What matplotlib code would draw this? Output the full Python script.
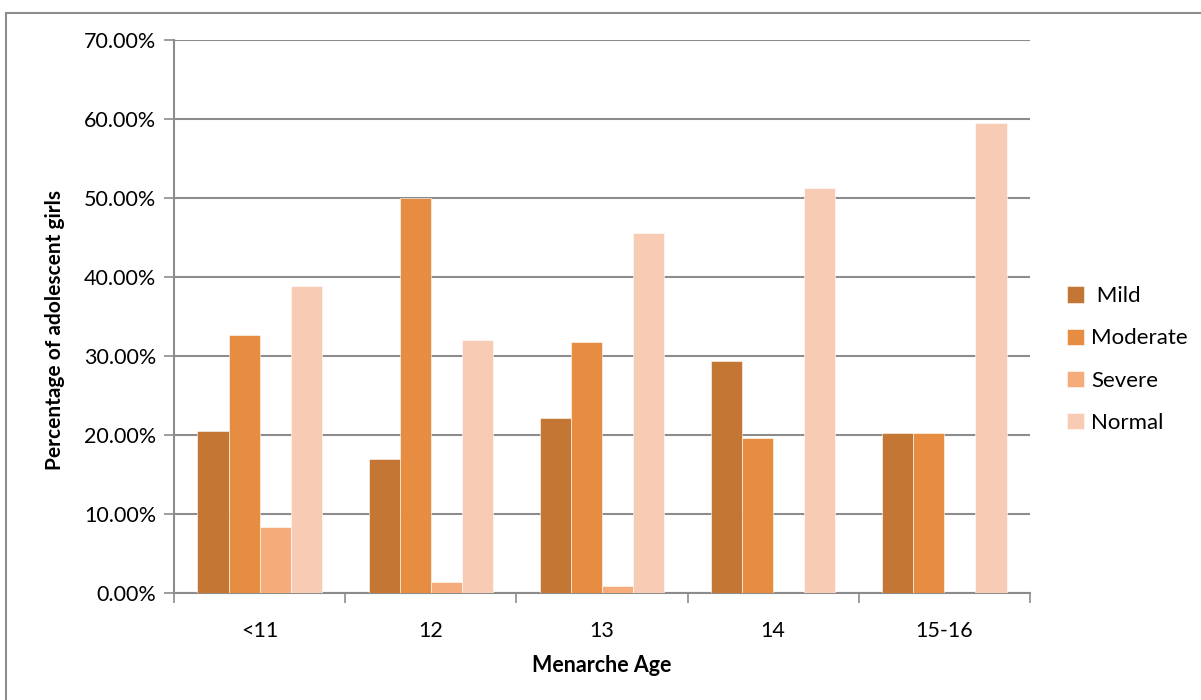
import matplotlib.pyplot as plt
import numpy as np
from matplotlib.patches import Rectangle
from matplotlib.ticker import FuncFormatter

plt.rcParams['font.family'] = ['Lato', 'DejaVu Sans']

ages = ["<11", "12", "13", "14", "15-16"]
series = [" Mild", "Moderate", "Severe", "Normal"]
mild = [20.5, 16.9, 22.1, 29.4, 20.3]
moderate = [32.7, 50.0, 31.8, 19.6, 20.3]
severe = [8.3, 1.4, 0.9, 0.0, 0.0]
normal = [38.9, 32.0, 45.5, 51.2, 59.5]
colors = ["#C47634", "#E78D42", "#F6AB7A", "#F8CBB4"]

fig = plt.figure(figsize=(12.01, 7.0), dpi=100)
ax = fig.add_axes([0.145, 0.153, 0.7125, 0.79])

# outer chart border
fig.patches.append(Rectangle((6 / 1201, -0.05), 1.2, (700 - 13) / 700 + 0.05,
                             transform=fig.transFigure, fill=False,
                             edgecolor="#8c8c8c", linewidth=1.5))

x = np.arange(len(ages))
w = 0.182
for i, (vals, name) in enumerate(zip([mild, moderate, severe, normal], series)):
    ax.bar(x + (i - 1.5) * w, vals, width=w, color=colors[i], label=name,
           edgecolor="white", linewidth=0.4, zorder=3)

ax.set_xlim(-0.5, len(ages) - 0.5)
ax.set_ylim(0, 70)
ax.set_yticks(np.arange(0, 71, 10))
ax.yaxis.set_major_formatter(FuncFormatter(lambda v, p: "%.2f%%" % v))
ax.set_xticks(x)
ax.set_xticklabels(ages)
ax.set_xticks(np.arange(-0.5, len(ages)), minor=True)
ax.tick_params(axis='x', which='major', length=0, labelsize=15.5, pad=20)
ax.tick_params(axis='x', which='minor', length=7, width=1.2, color="#8c8c8c", direction='out')
ax.tick_params(axis='y', length=7, width=1.2, color="#8c8c8c", labelsize=15.5, pad=6)

ax.grid(axis='y', color="#8c8c8c", linewidth=1.5, zorder=0)
for s in ["top", "right"]:
    ax.spines[s].set_visible(False)
for s in ["left", "bottom"]:
    ax.spines[s].set_color("#8c8c8c")
    ax.spines[s].set_linewidth(1.5)

ax.set_xlabel("Menarche Age", fontsize=15.5, fontweight='bold', labelpad=10)
ax.set_ylabel("Percentage of adolescent girls", fontsize=15, fontweight='bold', labelpad=12)
ax.yaxis.set_label_coords(-0.128, 0.475)

ax.legend(loc='center left', bbox_to_anchor=(1.02, 0.422), frameon=False,
          fontsize=16, handlelength=0.75, handleheight=0.75, handletextpad=0.35,
          labelspacing=1.0)

plt.savefig("out.png", dpi=100)
